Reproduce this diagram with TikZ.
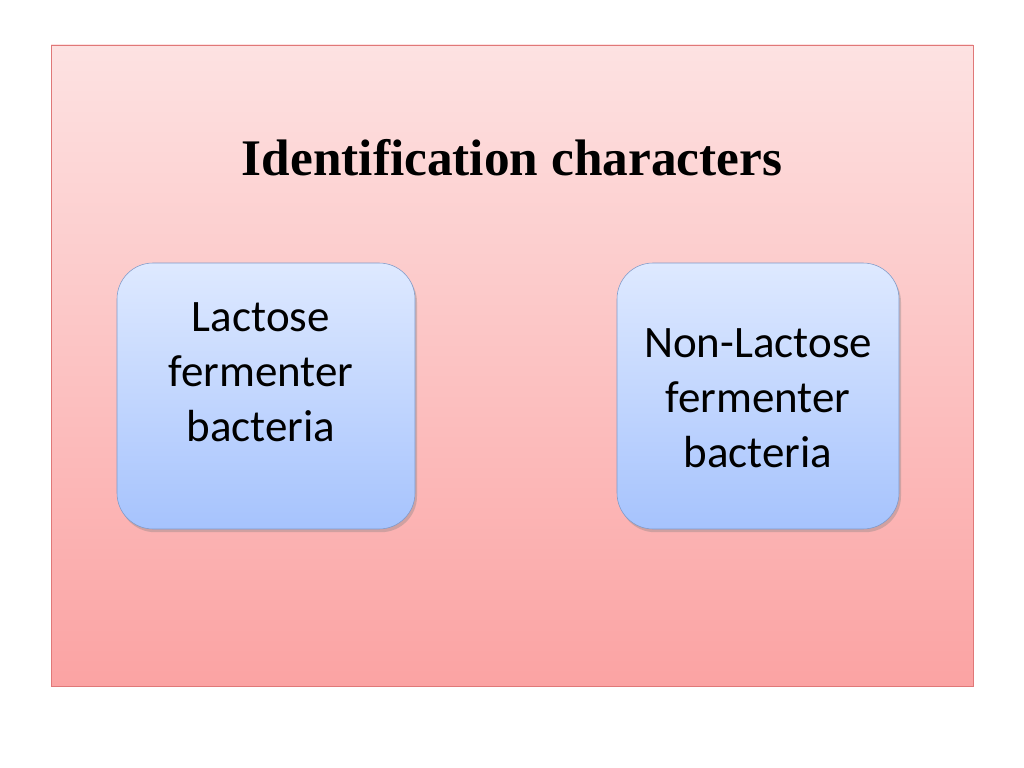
\documentclass[tikz,border=0pt]{standalone}
\usepackage{fontspec}
\setmainfont{Carlito}
\newfontfamily\titlefont{Liberation Serif}
\usetikzlibrary{positioning,shadows}

\definecolor{pinktop}{HTML}{FDE2E2}
\definecolor{pinkbot}{HTML}{FBA3A3}
\definecolor{pinkline}{HTML}{E07878}
\definecolor{bluetop}{HTML}{DEE9FF}
\definecolor{bluebot}{HTML}{A6C3FD}
\definecolor{blueline}{HTML}{7E99C8}

\tikzset{
  groupbox/.style={draw=blueline, rounded corners=0.9cm, top color=bluetop, bottom color=bluebot,
    minimum height=6.65cm, drop shadow={shadow xshift=0.05cm, shadow yshift=-0.08cm, opacity=0.35},
    inner sep=0pt},
  grouptext/.style={align=center, font=\fontsize{32}{39}\selectfont, inner sep=0pt}
}

\begin{document}
\begin{tikzpicture}
      \useasboundingbox (0,0) rectangle (25.6,-19.2);
      \fill[white] (0,0) rectangle (25.6,-19.2);
      \draw[pinkline, top color=pinktop, bottom color=pinkbot] (1.275,-1.125) rectangle (24.325,-17.15); % background panel

      \node (title) at (12.8,-3.95) {\titlefont\bfseries\fontsize{36.5}{40}\selectfont Identification characters};

      \node[groupbox, minimum width=7.45cm] (lactose) at (6.65,-9.9) {};
            \node[grouptext] (lactosetext) at (6.52,-9.3) {Lactose\\fermenter\\bacteria};
      \node[groupbox, minimum width=7.05cm] (nonlactose) at (18.95,-9.9) {};
            \node[grouptext] (nonlactosetext) at (18.95,-9.95) {Non-Lactose\\fermenter\\bacteria};
\end{tikzpicture}
\end{document}
